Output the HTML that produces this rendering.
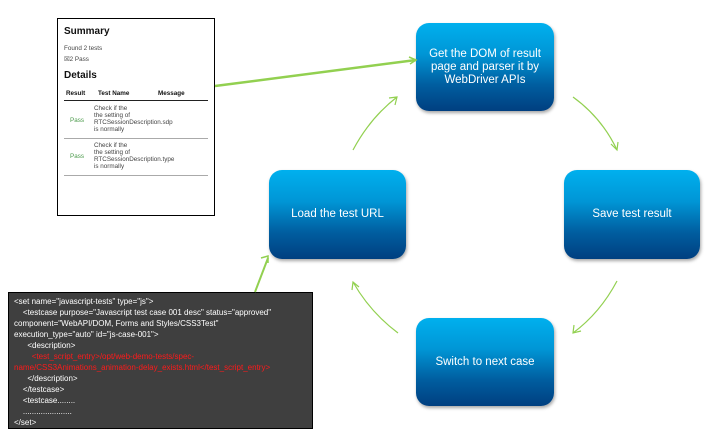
<!DOCTYPE html>
<html><head><meta charset="utf-8"><style>
body{margin:0;width:705px;height:436px;background:#fff;position:relative;overflow:hidden;font-family:"Liberation Sans",sans-serif}
.box{position:absolute;border-radius:13px;background:linear-gradient(#00b0ee 0%,#0096d6 35%,#005ea0 70%,#003f80 100%);color:#fff;display:flex;align-items:center;justify-content:center;text-align:center;font-size:11.5px;line-height:13px;box-shadow:1px 2px 3px rgba(0,0,0,.35)}
.shot{position:absolute;left:57px;top:18px;width:156px;height:196px;border:1px solid #000;background:#fff;color:#444;font-size:6.3px}
.code{position:absolute;left:8px;top:292px;width:305px;height:137px;background:#3f3f3f;border:1px solid #000;color:#fff;font-size:8px;line-height:11px;padding:3px 0 0 5px;box-sizing:border-box;white-space:pre;overflow:hidden}
.r{color:#ff1a1a}
</style></head><body>
<div class="shot">
<div style="position:absolute;left:6px;top:7px;font-size:10px;font-weight:bold;color:#111">Summary</div>
<div style="position:absolute;left:6px;top:26px">Found 2 tests</div>
<div style="position:absolute;left:6px;top:37px">☒2 Pass</div>
<div style="position:absolute;left:6px;top:51px;font-size:10px;font-weight:bold;color:#111">Details</div>
<div style="position:absolute;left:8px;top:71px;font-weight:bold;color:#111">Result</div>
<div style="position:absolute;left:40px;top:71px;font-weight:bold;color:#111">Test Name</div>
<div style="position:absolute;left:100px;top:71px;font-weight:bold;color:#111">Message</div>
<div style="position:absolute;left:6px;top:81px;width:144px;height:1px;background:#222"></div>
<div style="position:absolute;left:12px;top:98px;color:#4a9a4a">Pass</div>
<div style="position:absolute;left:36px;top:86px;line-height:7px">Check if the<br>the setting of<br>RTCSessionDescription.sdp<br>is normally</div>
<div style="position:absolute;left:6px;top:119px;width:144px;height:1px;background:#aaa"></div>
<div style="position:absolute;left:12px;top:134px;color:#4a9a4a">Pass</div>
<div style="position:absolute;left:36px;top:123px;line-height:7px">Check if the<br>the setting of<br>RTCSessionDescription.type<br>is normally</div>
<div style="position:absolute;left:6px;top:156px;width:144px;height:1px;background:#aaa"></div>
</div>
<div class="code">&lt;set name="javascript-tests" type="js"&gt;
    &lt;testcase purpose="Javascript test case 001 desc" status="approved"
component="WebAPI/DOM, Forms and Styles/CSS3Test"
execution_type="auto" id="js-case-001"&gt;
      &lt;description&gt;
<span class="r">        &lt;test_script_entry&gt;/opt/web-demo-tests/spec-
name/CSS3Animations_animation-delay_exists.html&lt;/test_script_entry&gt;</span>
      &lt;/description&gt;
    &lt;/testcase&gt;
    &lt;testcase........
    ......................
&lt;/set&gt;</div>
<div class="box" style="left:416px;top:23px;width:138px;height:88px">Get the DOM of result<br>page and parser it by<br>WebDriver APIs</div>
<div class="box" style="left:564px;top:170px;width:136px;height:89px">Save test result</div>
<div class="box" style="left:269px;top:170px;width:137px;height:89px">Load the test URL</div>
<div class="box" style="left:416px;top:318px;width:138px;height:88px">Switch to next case</div>
<svg width="705" height="436" style="position:absolute;left:0;top:0" fill="none" stroke="#92d050" stroke-width="1.2">
<path d="M353 150 Q370 118 397 97"/><path d="M389 98 L397 97 L395 105"/>
<path d="M573 97 Q602 118 617 150"/><path d="M611 144 L617 150 L618 142"/>
<path d="M617 281 Q600 313 573 333"/><path d="M574 325 L573 333 L581 331"/>
<path d="M398 333 Q370 312 353 282"/><path d="M352 290 L353 282 L359 287"/>
<path d="M215 86 L416 60" stroke-width="2.5"/><path d="M409 57 L416 60 L410 64" stroke-width="1.5"/>
<path d="M255 292 L268 258" stroke-width="2"/><path d="M261 258 L268 256 L268 263" stroke-width="1.5"/>
</svg>
</body></html>
